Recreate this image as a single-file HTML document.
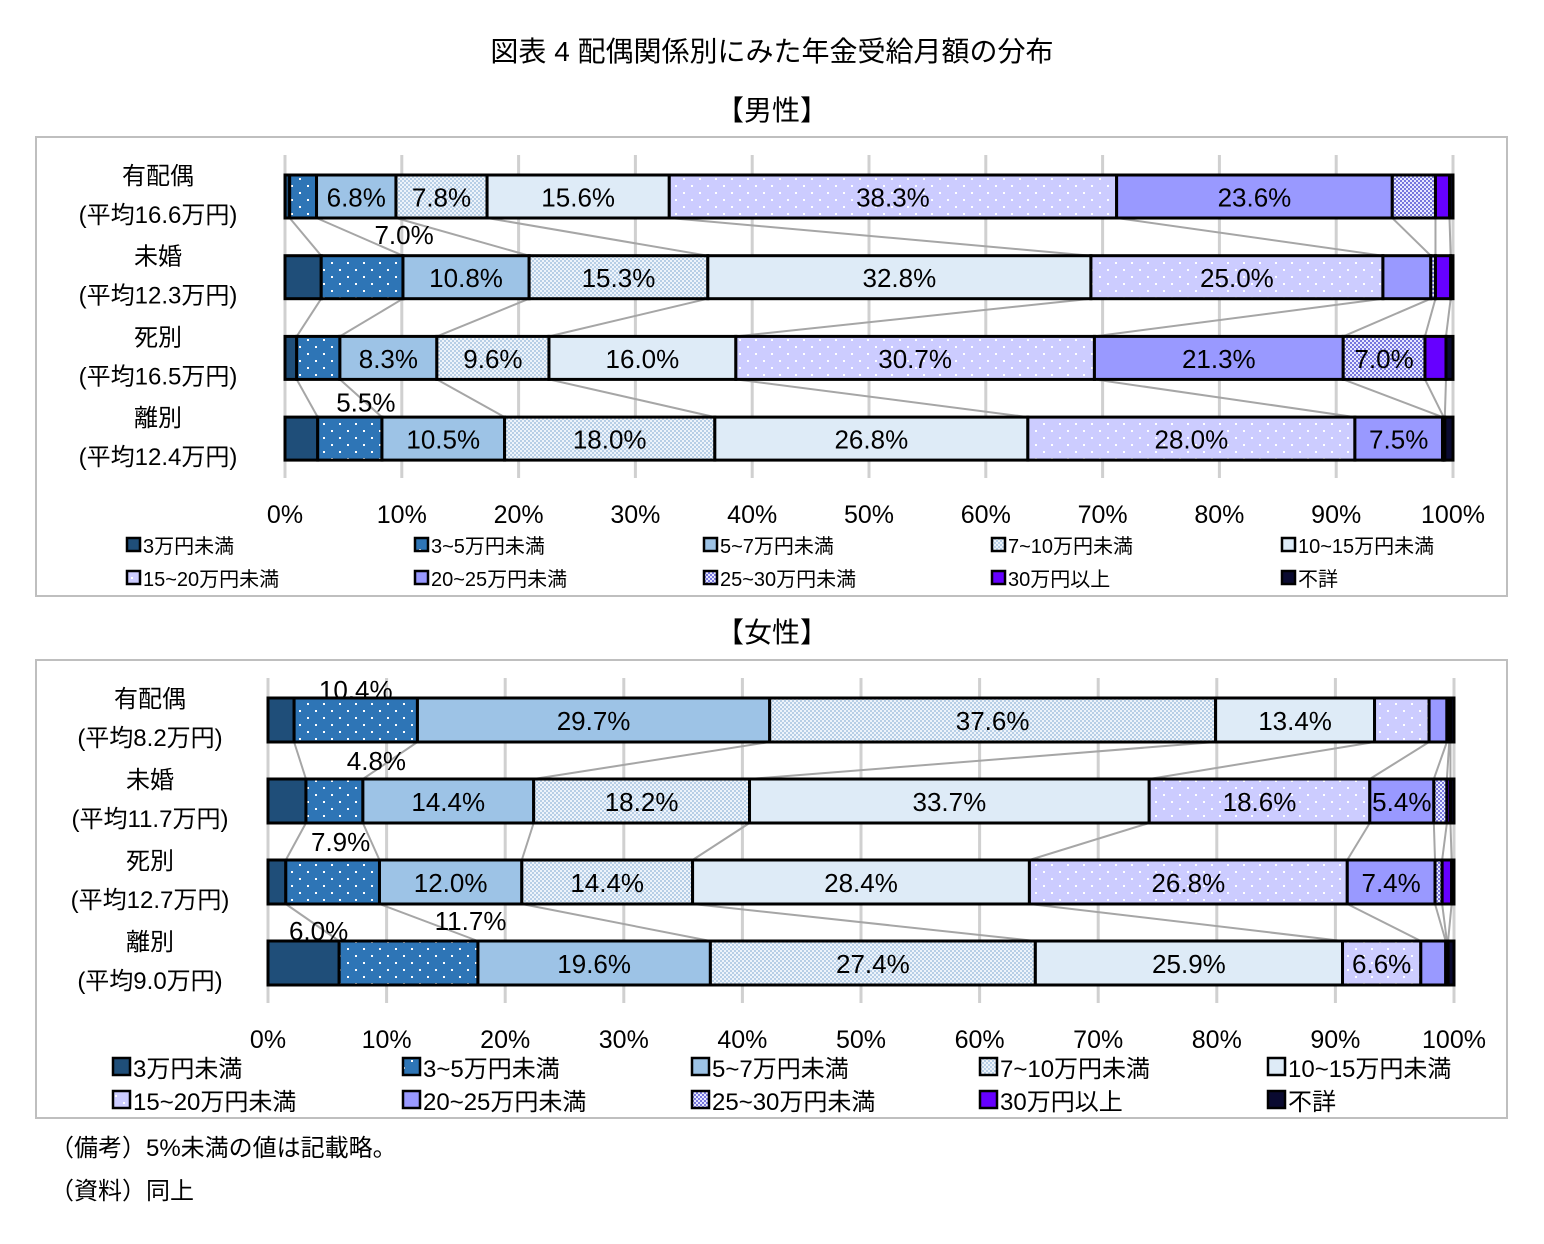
<!DOCTYPE html>
<html><head><meta charset="utf-8">
<style>
body{margin:0;background:#fff;}
svg{display:block;font-family:"Liberation Sans","Noto Sans CJK JP",sans-serif;}
</style></head>
<body>
<svg id="svg" width="1544" height="1244" viewBox="0 0 1544 1244" xmlns="http://www.w3.org/2000/svg">
<defs>
<pattern id="dots1" width="16" height="14" patternUnits="userSpaceOnUse"><rect width="16" height="14" fill="#2e75b6"/><rect x="3" y="3" width="2" height="2" fill="#fff"/><rect x="11" y="10" width="2" height="2" fill="#fff"/></pattern>
<pattern id="dots2" width="16" height="14" patternUnits="userSpaceOnUse"><rect width="16" height="14" fill="#ccccff"/><rect x="3" y="3" width="2" height="2" fill="#fff"/><rect x="11" y="10" width="2" height="2" fill="#fff"/></pattern>
<pattern id="chk1" width="4" height="4" patternUnits="userSpaceOnUse"><rect width="4" height="4" fill="#eef4fb"/><rect width="2" height="2" fill="#b8cfe6"/><rect x="2" y="2" width="2" height="2" fill="#b8cfe6"/></pattern>
<pattern id="chk2" width="4" height="4" patternUnits="userSpaceOnUse"><rect width="4" height="4" fill="#e8e8ff"/><rect width="2" height="2" fill="#7777dd"/><rect x="2" y="2" width="2" height="2" fill="#7777dd"/></pattern>
</defs>
<text x="772" y="61" text-anchor="middle" font-size="28" fill="#000">図表 4  配偶関係別にみた年金受給月額の分布</text>
<text x="772" y="120" text-anchor="middle" font-size="28">【男性】</text>
<text x="772" y="642" text-anchor="middle" font-size="28">【女性】</text>
<rect x="36" y="137" width="1471" height="459" fill="none" stroke="#bfbfbf" stroke-width="2"/>
<rect x="36" y="660" width="1471" height="458" fill="none" stroke="#bfbfbf" stroke-width="2"/>
<text x="50" y="1156" font-size="24">（備考）5%未満の値は記載略。</text>
<text x="50" y="1199" font-size="24">（資料）同上</text>
<g id="g"></g>
</svg>
<script>
const seriesNames=["3万円未満","3~5万円未満","5~7万円未満","7~10万円未満","10~15万円未満","15~20万円未満","20~25万円未満","25~30万円未満","30万円以上","不詳"];
const fills=["#1f4e79","url(#dots1)","#9dc3e6","url(#chk1)","#deebf7","url(#dots2)","#9999ff","url(#chk2)","#6600ff","#0a0a30"];
const maleCats=["有配偶","未婚","死別","離別"];
const maleAvg=["(平均16.6万円)","(平均12.3万円)","(平均16.5万円)","(平均12.4万円)"];
const maleVals=[
[0.4,2.3,6.8,7.8,15.6,38.3,23.6,3.7,1.2,0.3],
[3.1,7.0,10.8,15.3,32.8,25.0,4.1,0.4,1.3,0.2],
[1.0,3.7,8.3,9.6,16.0,30.7,21.3,7.0,1.8,0.6],
[2.8,5.5,10.5,18.0,26.8,28.0,7.5,0.1,0.1,0.7]];
const femaleCats=["有配偶","未婚","死別","離別"];
const femaleAvg=["(平均8.2万円)","(平均11.7万円)","(平均12.7万円)","(平均9.0万円)"];
const femaleVals=[
[2.2,10.4,29.7,37.6,13.4,4.6,1.5,0.2,0.1,0.3],
[3.2,4.8,14.4,18.2,33.7,18.6,5.4,1.1,0.3,0.3],
[1.5,7.9,12.0,14.4,28.4,26.8,7.4,0.6,0.8,0.2],
[6.0,11.7,19.6,27.4,25.9,6.6,2.1,0.1,0.1,0.5]];
const tickVals=[0,10,20,30,40,50,60,70,80,90,100];
// labels drawn above bar: [row, seg, dx, dy]
const maleAbove=[[1,1,42,-42],[3,1,16,-36]];
const femaleAbove=[[0,1,0,-30],[1,1,42,-40],[2,1,8,-40],[3,0,15,-32],[3,1,62,-42]];
const NS="http://www.w3.org/2000/svg";
const G=document.getElementById('g');
function mk(t,a,txt){const e=document.createElementNS(NS,t);for(const k in a)e.setAttribute(k,a[k]);if(txt!==undefined)e.textContent=txt;G.appendChild(e);return e;}
function draw(cfg){
  const xs=v=>cfg.x0+v/100*(cfg.x1-cfg.x0);
  const yb=i=>cfg.yTop+i*cfg.step;
  tickVals.forEach(t=>{
    const l=mk('line',{x1:xs(t),x2:xs(t),y1:cfg.gy0,y2:cfg.gy1,stroke:'#d0d0d0','stroke-width':3});
    
    
    const tx=mk('text',{x:xs(t),y:cfg.tickY,'text-anchor':'middle','font-size':25},t+'%');
    
    
  });
  const cums=cfg.vals.map(r=>{let c=0;return r.map(v=>{c+=v;return c;});});
  for(let i=0;i<cfg.vals.length-1;i++){
    cums[i].forEach((c,j)=>{
      if(j===cums[i].length-1)return;
      const l=mk('line',{x1:xs(c),y1:yb(i)+cfg.h,x2:xs(cums[i+1][j]),y2:yb(i+1),stroke:'#a6a6a6','stroke-width':2});
      
      
    });
  }
  cfg.vals.forEach((row,i)=>{
    let s=0;
    row.forEach((v,j)=>{
      const r=mk('rect',{x:xs(s),y:yb(i),width:Math.max(0,xs(s+v)-xs(s)),height:cfg.h,fill:fills[j],stroke:'#000','stroke-width':3});
      
      
      s+=v;
    });
    s=0;
    row.forEach((v,j)=>{
      const ab=cfg.above.find(a=>a[0]===i&&a[1]===j);
      const cx=xs(s+v/2);
      if(ab){
        const t=mk('text',{x:cx+ab[2],y:yb(i)+cfg.h/2+9+ab[3],'text-anchor':'middle','font-size':26},v.toFixed(1)+'%');
        
        
      }else if(v>=5){
        const t=mk('text',{x:cx,y:yb(i)+cfg.h/2+10,'text-anchor':'middle','font-size':26},v.toFixed(1)+'%');
        
        
      }
      s+=v;
    });
    const c1=mk('text',{x:cfg.catX,y:yb(i)+9,'text-anchor':'middle','font-size':24},cfg.cats[i]);
    
    
    const c2=mk('text',{x:cfg.catX,y:yb(i)+48,'text-anchor':'middle','font-size':24},cfg.avg[i]);
    
    
  });
  seriesNames.forEach((n,k)=>{
    const col=k%5,rw=Math.floor(k/5);
    const x=cfg.legX[col],y=cfg.legY[rw];
    const r=mk('rect',{x:x,y:y-cfg.ls+2,width:cfg.ls-4,height:cfg.ls-4,fill:fills[k],stroke:'#000','stroke-width':2.5});
    
    
    const t=mk('text',{x:x+cfg.ls-1,y:y,'font-size':cfg.lf},n);
    
    
  });
}
draw({p:'male',x0:285,x1:1453,yTop:175,step:80.7,h:43,gy0:155,gy1:478,tickY:523,vals:maleVals,cats:maleCats,avg:maleAvg,catX:158,above:maleAbove,legX:[127,415,704,992,1282],legY:[553,586],ls:17,lf:20});
draw({p:'female',x0:268,x1:1454,yTop:698,step:81,h:44,gy0:678,gy1:1003,tickY:1048,vals:femaleVals,cats:femaleCats,avg:femaleAvg,catX:150,above:femaleAbove,legX:[113,403,692,980,1268],legY:[1077,1110],ls:21,lf:24});
</script>
</body></html>
